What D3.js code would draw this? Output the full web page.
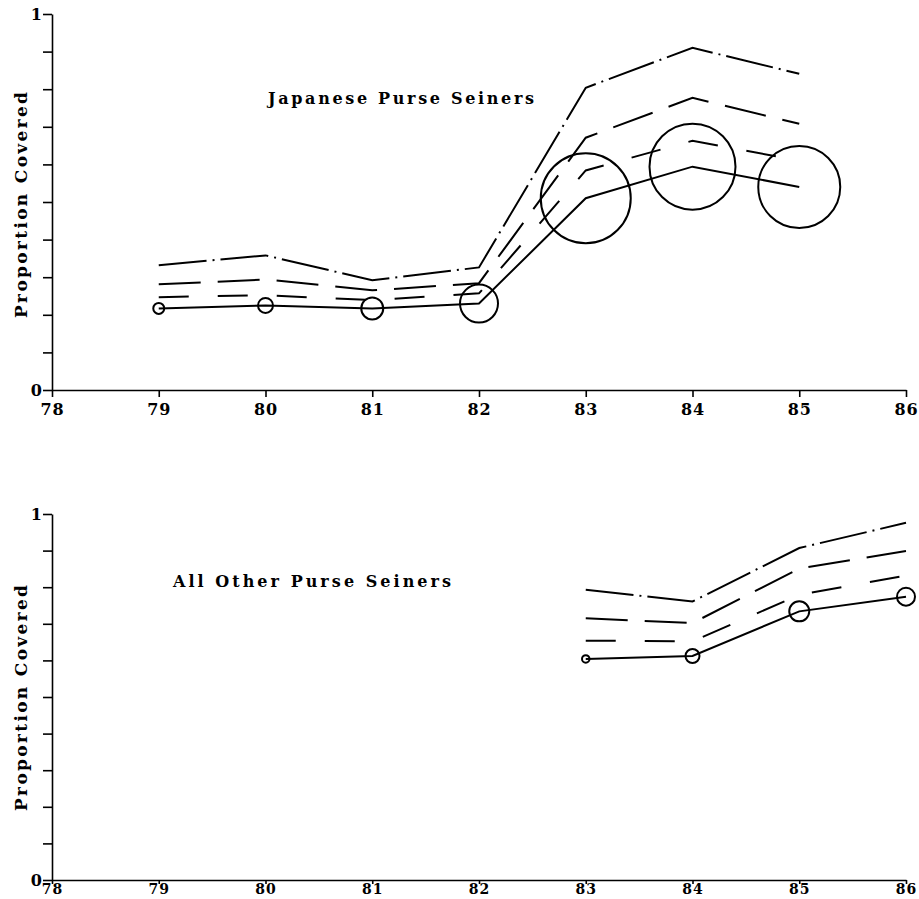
<!DOCTYPE html>
<html>
<head>
<meta charset="utf-8">
<script src="https://cdn.jsdelivr.net/npm/d3@7"></script>
<style>
  body { margin: 0; background: #fff; }
  svg { display: block; }
  .tick text { font-family: "DejaVu Serif", serif; font-weight: bold; }
</style>
</head>
<body>
<div id="chart"></div>
<script>
// years on the x axis
const years = [78, 79, 80, 81, 82, 83, 84, 85, 86];
const yTicks = [0, 0.1, 0.2, 0.3, 0.4, 0.5, 0.6, 0.7, 0.8, 0.9, 1];

// Japanese purse seiners
const japYears   = [79, 80, 81, 82, 83, 84, 85];
const japEst     = [0.217, 0.225, 0.217, 0.230, 0.510, 0.594, 0.540];
const japLow     = [0.247, 0.252, 0.239, 0.257, 0.584, 0.663, 0.610];
const japMid     = [0.281, 0.294, 0.265, 0.284, 0.671, 0.777, 0.708];
const japHigh    = [0.332, 0.358, 0.292, 0.326, 0.804, 0.910, 0.841];
const japSample  = [30, 56, 121, 361, 2025, 1849, 1681];

// all other purse seiners
const othYears   = [83, 84, 85, 86];
const othEst     = [0.604, 0.612, 0.734, 0.774];
const othLow     = [0.654, 0.652, 0.779, 0.832];
const othMid     = [0.715, 0.702, 0.851, 0.899];
const othHigh    = [0.793, 0.761, 0.907, 0.976];
const othSample  = [14, 49, 100, 81];

const W = 919, H = 899;
const svg = d3.select("#chart").append("svg")
    .attr("width", W)
    .attr("height", H);

const x = d3.scaleLinear().domain([78, 86]).range([52, 906]);
const r = d3.scaleSqrt().domain([0, 2025]).range([0, 45]);

const lineStyles = [
    {key: "high", dash: "48,6,2,6"},
    {key: "mid",  dash: "42,17"},
    {key: "low",  dash: "30,29"},
    {key: "est",  dash: null}
];

const labelFont = "DejaVu Serif, serif";

function drawPanel(cfg) {
    const y = d3.scaleLinear().domain([0, 1]).range([cfg.bottom, cfg.top]);
    const g = svg.append("g");

    // y axis
    g.append("g")
        .attr("transform", `translate(${x(78)},0)`)
        .call(d3.axisLeft(y)
            .tickValues(yTicks)
            .tickSize(9)
            .tickSizeOuter(0)
            .tickPadding(1)
            .tickFormat(d => (d === 0 || d === 1) ? d3.format("d")(d) : ""))
        .call(a => a.selectAll("text").style("font-size", "16px"))
        .call(a => a.selectAll("line, path").attr("stroke", "#000").attr("stroke-width", 1.6));

    // x axis
    g.append("g")
        .attr("transform", `translate(0,${cfg.bottom})`)
        .call(d3.axisBottom(x)
            .tickValues(years)
            .tickSize(cfg.xTick)
            .tickSizeOuter(0)
            .tickPadding(cfg.xPad)
            .tickFormat(d3.format("d")))
        .call(a => a.selectAll("text").style("font-size", cfg.xFont + "px").attr("letter-spacing", 1))
        .call(a => a.selectAll("line, path").attr("stroke", "#000").attr("stroke-width", 1.6));

    // y label
    g.append("text")
        .attr("transform", `translate(27,${cfg.labelY}) rotate(-90)`)
        .attr("text-anchor", "middle")
        .attr("textLength", 226)
        .attr("lengthAdjust", "spacing")
        .style("font-family", labelFont)
        .style("font-weight", "bold")
        .style("font-size", "17px")
        .text("Proportion Covered");

    // title
    g.append("text")
        .attr("x", cfg.titleX)
        .attr("y", cfg.titleY)
        .attr("textLength", cfg.titleLen)
        .attr("lengthAdjust", "spacing")
        .style("font-family", labelFont)
        .style("font-weight", "bold")
        .style("font-size", "16px")
        .text(cfg.title);

    const line = d3.line()
        .x(d => x(d[0]))
        .y(d => y(d[1]));

    lineStyles.forEach(s => {
        const pts = cfg.years.map((yr, i) => [yr, cfg.series[s.key][i]]);
        g.append("path")
            .attr("d", line(pts))
            .attr("fill", "none")
            .attr("stroke", "#000")
            .attr("stroke-width", 2)
            .attr("stroke-dasharray", s.dash);
    });

    g.selectAll("circle")
        .data(cfg.years.map((yr, i) => ({yr, v: cfg.series.est[i], n: cfg.sample[i]})))
        .join("circle")
        .attr("cx", d => x(d.yr))
        .attr("cy", d => y(d.v))
        .attr("r", d => r(d.n))
        .attr("fill", "none")
        .attr("stroke", "#000")
        .attr("stroke-width", 2);
}

drawPanel({
    top: 14, bottom: 390, xTick: 7, xPad: 7, xFont: 16, labelY: 205,
    title: "Japanese Purse Seiners", titleX: 268, titleY: 104, titleLen: 266,
    years: japYears,
    series: {est: japEst, low: japLow, mid: japMid, high: japHigh},
    sample: japSample
});

drawPanel({
    top: 514, bottom: 880, xTick: 4, xPad: 0, xFont: 14, labelY: 698,
    title: "All Other Purse Seiners", titleX: 173, titleY: 587, titleLen: 278,
    years: othYears,
    series: {est: othEst, low: othLow, mid: othMid, high: othHigh},
    sample: othSample
});
</script>
</body>
</html>
